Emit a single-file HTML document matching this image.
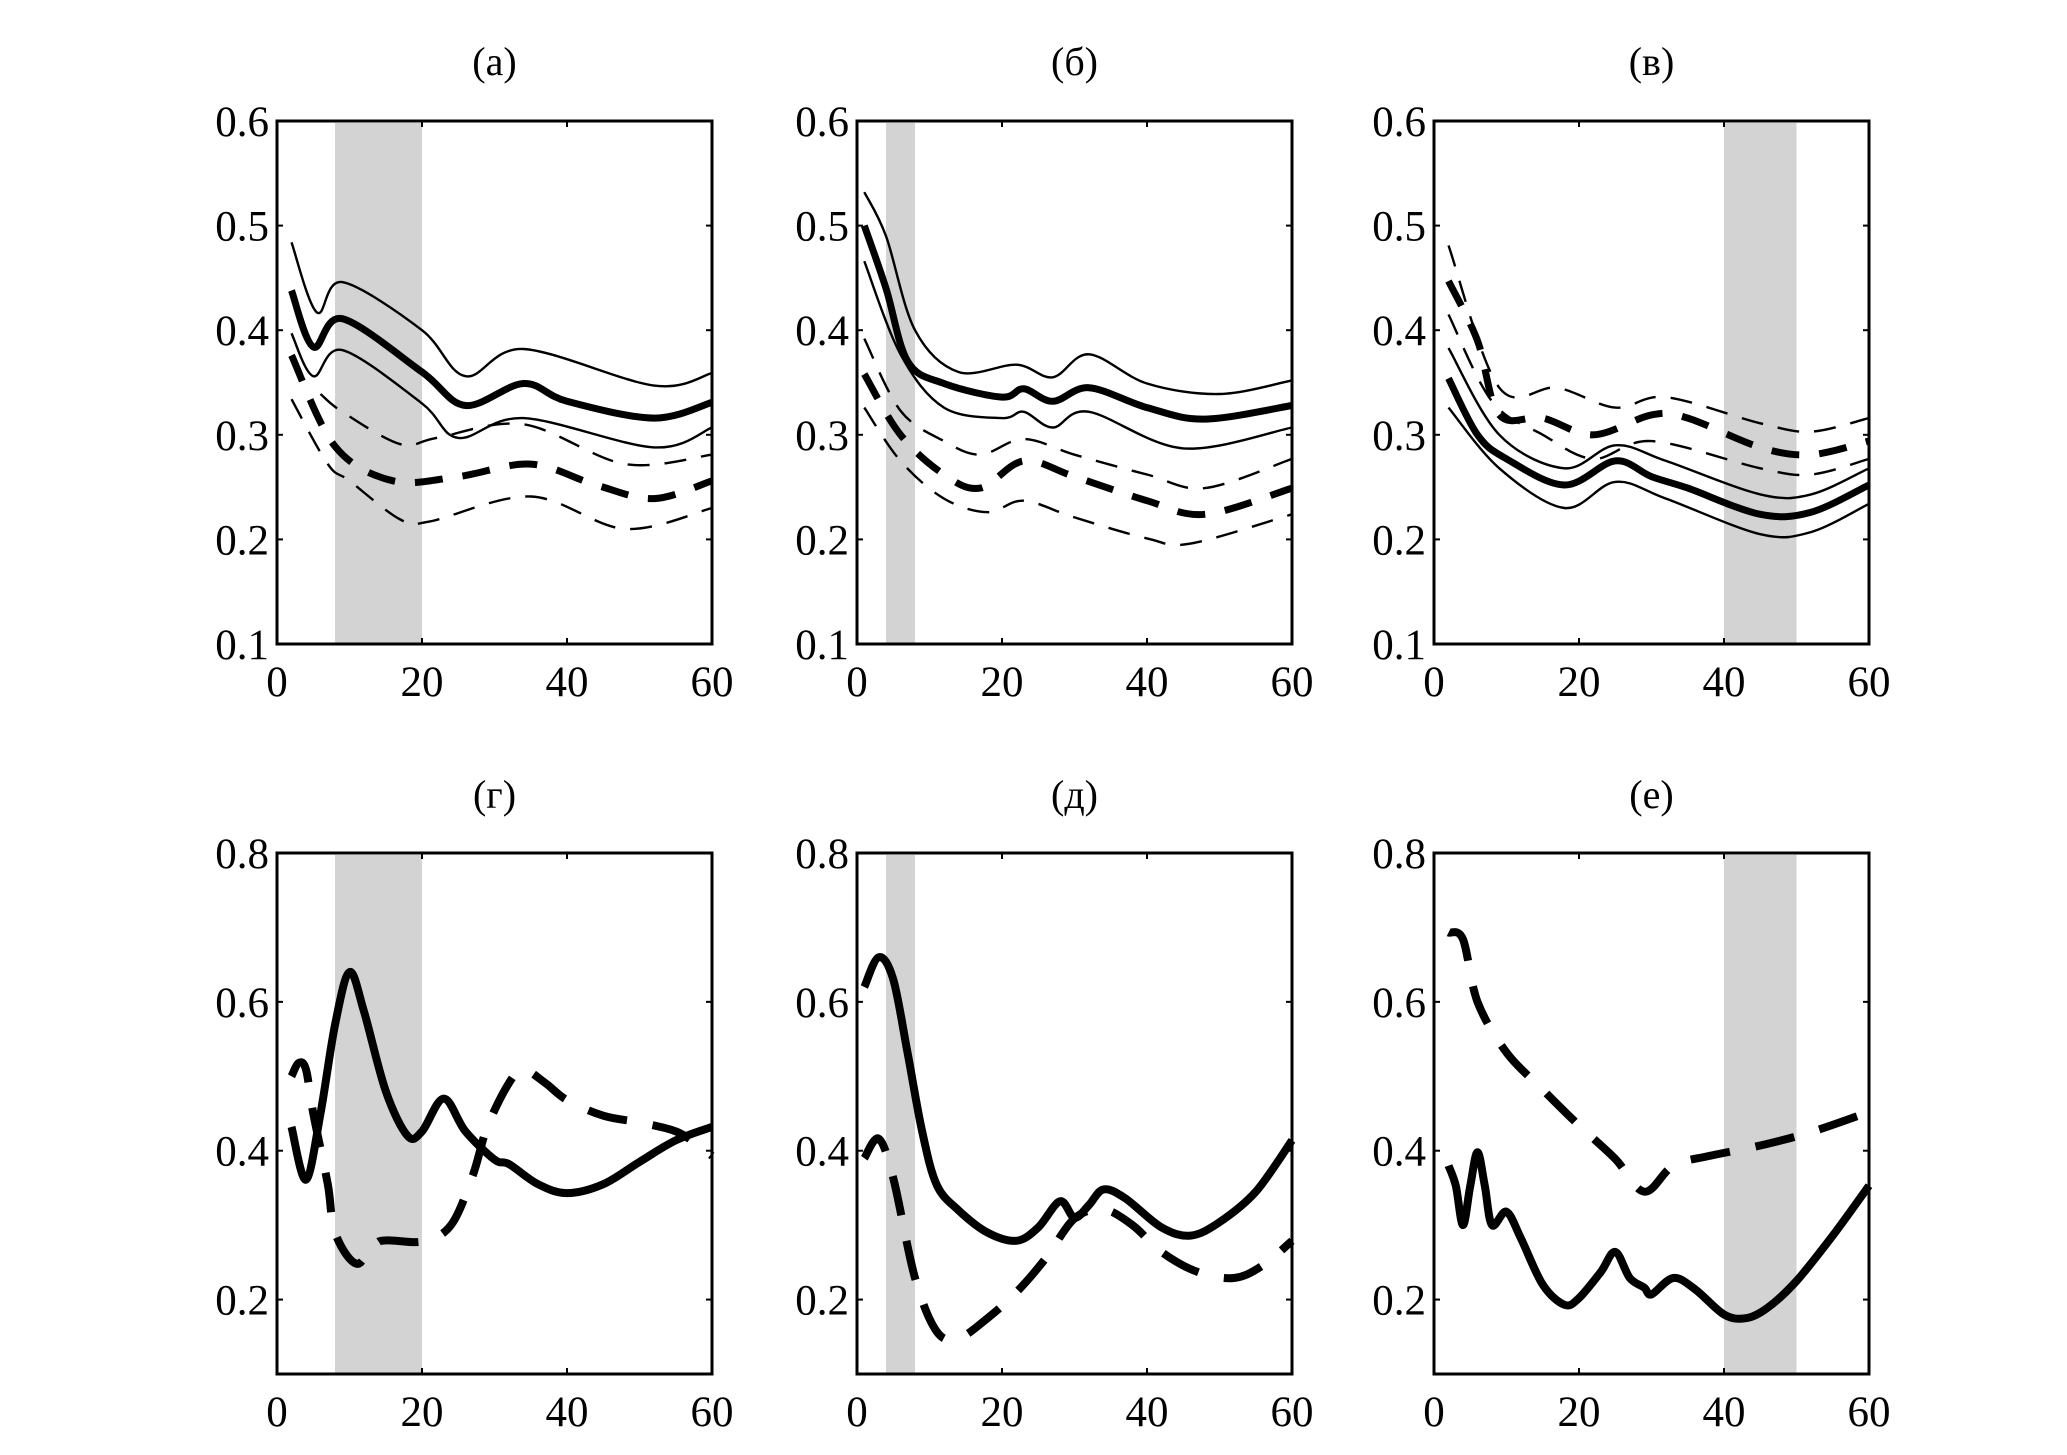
<!DOCTYPE html>
<html><head><meta charset="utf-8"><style>
html,body{margin:0;padding:0;background:#fff;}
svg{display:block;font-family:"Liberation Serif","DejaVu Serif",serif;}
</style></head><body>
<svg id="fig" width="2067" height="1455" viewBox="0 0 2067 1455" xmlns="http://www.w3.org/2000/svg"></svg>
<script>
// ---- Data (x = time, y = value) ----
const xTicks = [0, 20, 40, 60];
const yTicksTop = ["0.1", "0.2", "0.3", "0.4", "0.5", "0.6"];
const yTicksBottom = ["0.2", "0.4", "0.6", "0.8"];
const panelTitles = ["(а)", "(б)", "(в)", "(г)", "(д)", "(е)"];
const shadeRanges = [[8, 20], [4, 8], [40, 50], [8, 20], [4, 8], [40, 50]];

// panel a
const aSolidX = [2, 5, 9, 20, 26, 34, 40, 52, 60];
const aSolidMean = [0.438, 0.384, 0.411, 0.36, 0.328, 0.349, 0.332, 0.316, 0.331];
const aSolidUpX = [2, 5.5, 9, 20, 26, 34, 52, 60];
const aSolidUp = [0.484, 0.417, 0.446, 0.40, 0.356, 0.382, 0.347, 0.359];
const aSolidLoX = [2, 5, 9, 20, 25, 34, 52, 60];
const aSolidLo = [0.397, 0.356, 0.381, 0.33, 0.297, 0.316, 0.288, 0.307];
const aDashX = [2, 8, 16, 25, 35, 44, 52, 60];
const aDashMean = [0.376, 0.289, 0.256, 0.26, 0.272, 0.252, 0.239, 0.256];
const aDashUpX = [6, 9, 17, 22, 34, 48, 60];
const aDashUp = [0.339, 0.322, 0.291, 0.297, 0.31, 0.272, 0.281];
const aDashLoX = [2, 7, 10, 17, 21, 35, 48, 60];
const aDashLo = [0.334, 0.272, 0.256, 0.219, 0.217, 0.241, 0.21, 0.23];
// panel b
const bX = [1, 4, 7, 12, 20, 23, 27, 32, 40, 48, 60];
const bSolidMean = [0.50, 0.44, 0.37, 0.349, 0.336, 0.344, 0.332, 0.345, 0.326, 0.315, 0.328];
const bSolidUpX = [1, 4, 8, 14, 22, 27, 32, 40, 50, 60];
const bSolidUp = [0.532, 0.49, 0.40, 0.36, 0.367, 0.355, 0.377, 0.349, 0.339, 0.352];
const bSolidLoX = [1, 6, 12, 20, 23, 27, 32, 45, 60];
const bSolidLo = [0.466, 0.377, 0.326, 0.316, 0.322, 0.307, 0.322, 0.287, 0.307];
const bDashX = [1, 6, 12, 17, 23, 30, 40, 48, 60];
const bDashMean = [0.358, 0.30, 0.262, 0.249, 0.275, 0.26, 0.237, 0.224, 0.249];
const bDashUp = [0.392, 0.323, 0.294, 0.281, 0.296, 0.281, 0.262, 0.249, 0.277];
const bDashLoX = [1, 6, 12, 18, 23, 30, 40, 46, 60];
const bDashLo = [0.326, 0.275, 0.239, 0.226, 0.237, 0.221, 0.201, 0.196, 0.224];
// panel c
const cDashX = [2, 6, 9, 15, 22, 30, 35, 45, 52, 60];
const cDashMean = [0.447, 0.39, 0.319, 0.316, 0.30, 0.319, 0.316, 0.288, 0.281, 0.294];
const cDashUpX = [2, 9, 17, 25, 32, 45, 52, 60];
const cDashUp = [0.481, 0.345, 0.345, 0.326, 0.336, 0.311, 0.303, 0.316];
const cDashLoX = [2, 8, 15, 22, 30, 45, 52, 60];
const cDashLo = [0.415, 0.332, 0.30, 0.277, 0.294, 0.268, 0.262, 0.277];
const cSolidX = [2, 6, 10, 18, 25, 30, 35, 45, 52, 60];
const cSolidMean = [0.354, 0.30, 0.277, 0.252, 0.275, 0.26, 0.249, 0.224, 0.226, 0.252];
const cSolidBandX = [2, 9, 18, 25, 32, 45, 52, 60];
const cSolidUp = [0.383, 0.30, 0.268, 0.29, 0.275, 0.243, 0.243, 0.268];
const cSolidLo = [0.326, 0.268, 0.23, 0.255, 0.239, 0.205, 0.207, 0.234];
// panel d (г)
const dSolidX = [2, 4, 6, 8, 10, 12, 15, 18, 20, 23, 26, 30, 32, 36, 40, 45, 50, 55, 60];
const dSolid = [0.432, 0.361, 0.45, 0.569, 0.64, 0.587, 0.48, 0.42, 0.426, 0.47, 0.426, 0.388, 0.382, 0.355, 0.343, 0.355, 0.385, 0.414, 0.432];
const dDashX = [2, 3, 4, 5, 7, 8, 11, 14, 20, 24, 27, 29, 32, 34, 37, 40, 45, 50, 55, 58, 60];
const dDash = [0.50, 0.518, 0.509, 0.45, 0.355, 0.29, 0.248, 0.278, 0.278, 0.30, 0.367, 0.432, 0.491, 0.509, 0.491, 0.468, 0.447, 0.438, 0.426, 0.408, 0.393];
// panel e (д)
const eSolidX = [1, 3, 5, 7, 9, 11, 14, 18, 22, 25, 28, 30, 32, 34, 37, 42, 46, 50, 55, 60];
const eSolid = [0.62, 0.66, 0.63, 0.53, 0.425, 0.354, 0.32, 0.29, 0.279, 0.297, 0.332, 0.31, 0.327, 0.348, 0.336, 0.297, 0.286, 0.304, 0.345, 0.414];
const eDashX = [1, 3, 5, 8, 11, 14, 18, 22, 26, 30, 34, 38, 42, 47, 52, 56, 60];
const eDash = [0.39, 0.416, 0.363, 0.229, 0.157, 0.148, 0.175, 0.21, 0.255, 0.309, 0.321, 0.30, 0.264, 0.237, 0.229, 0.246, 0.279];
// panel f (е)
const fDashX = [2, 4, 6, 10, 15, 20, 25, 29, 33, 38, 45, 52, 60];
const fDash = [0.693, 0.684, 0.60, 0.532, 0.482, 0.434, 0.389, 0.345, 0.38, 0.393, 0.407, 0.425, 0.452];
const fSolidX = [2, 3, 4, 5, 6, 7, 8, 10, 12, 15, 18, 20, 23, 25, 27, 29, 30, 33, 36, 40, 43, 46, 50, 55, 60];
const fSolid = [0.38, 0.353, 0.30, 0.353, 0.398, 0.353, 0.30, 0.318, 0.282, 0.22, 0.193, 0.202, 0.237, 0.264, 0.229, 0.216, 0.207, 0.229, 0.214, 0.18, 0.175, 0.189, 0.225, 0.286, 0.353];

// ---- Layout ----
const NS = "http://www.w3.org/2000/svg";
const svg = document.getElementById("fig");
const lefts = [277, 857, 1434];
const W = 435;
const rows = [{top: 121, bottom: 644, ymin: 0.1, ymax: 0.6, ticks: yTicksTop, titleY: 75},
              {top: 853, bottom: 1374, ymin: 0.1, ymax: 0.8, ticks: yTicksBottom, titleY: 808}];

function mk(tag, attrs, parent) {
  const e = document.createElementNS(NS, tag);
  for (const k in attrs) e.setAttribute(k, attrs[k]);
  (parent || svg).appendChild(e);
  return e;
}
function smoothPath(pts) {
  let d = "M" + pts[0][0].toFixed(1) + "," + pts[0][1].toFixed(1);
  for (let i = 0; i < pts.length - 1; i++) {
    const p0 = pts[Math.max(0, i - 1)], p1 = pts[i], p2 = pts[i + 1], p3 = pts[Math.min(pts.length - 1, i + 2)];
    const c1x = p1[0] + (p2[0] - p0[0]) / 6, c1y = p1[1] + (p2[1] - p0[1]) / 6;
    const c2x = p2[0] - (p3[0] - p1[0]) / 6, c2y = p2[1] - (p3[1] - p1[1]) / 6;
    d += " C" + c1x.toFixed(1) + "," + c1y.toFixed(1) + " " + c2x.toFixed(1) + "," + c2y.toFixed(1) + " " + p2[0].toFixed(1) + "," + p2[1].toFixed(1);
  }
  return d;
}

const panelSeries = [
  [[aSolidX, aSolidMean, 7, null, "solid-mean"], [aSolidUpX, aSolidUp, 2.4, null, "solid-upper"], [aSolidLoX, aSolidLo, 2.4, null, "solid-lower"],
   [aDashX, aDashMean, 7, "28,20", "dashed-mean"], [aDashUpX, aDashUp, 2.4, "22,15", "dashed-upper"], [aDashLoX, aDashLo, 2.4, "22,15", "dashed-lower"]],
  [[bX, bSolidMean, 7, null, "solid-mean"], [bSolidUpX, bSolidUp, 2.4, null, "solid-upper"], [bSolidLoX, bSolidLo, 2.4, null, "solid-lower"],
   [bDashX, bDashMean, 7, "28,20", "dashed-mean"], [bDashX, bDashUp, 2.4, "22,15", "dashed-upper"], [bDashLoX, bDashLo, 2.4, "22,15", "dashed-lower"]],
  [[cSolidX, cSolidMean, 7, null, "solid-mean"], [cSolidBandX, cSolidUp, 2.4, null, "solid-upper"], [cSolidBandX, cSolidLo, 2.4, null, "solid-lower"],
   [cDashX, cDashMean, 7, "28,20", "dashed-mean"], [cDashUpX, cDashUp, 2.4, "22,15", "dashed-upper"], [cDashLoX, cDashLo, 2.4, "22,15", "dashed-lower"]],
  [[dSolidX, dSolid, 8, null, "solid-line"], [dDashX, dDash, 8, "40,26", "dashed-line"]],
  [[eSolidX, eSolid, 8, null, "solid-line"], [eDashX, eDash, 8, "40,26", "dashed-line"]],
  [[fSolidX, fSolid, 8, null, "solid-line"], [fDashX, fDash, 8, "40,26", "dashed-line"]]
];

for (let p = 0; p < 6; p++) {
  const row = rows[Math.floor(p / 3)];
  const L = lefts[p % 3], R = L + W, T = row.top, B = row.bottom;
  const sx = v => L + (v / 60) * W;
  const sy = v => B - (v - row.ymin) / (row.ymax - row.ymin) * (B - T);
  const g = mk("g", {});
  
  

  const sh = mk("rect", {x: sx(shadeRanges[p][0]), y: T + 2, width: sx(shadeRanges[p][1]) - sx(shadeRanges[p][0]), height: B - T - 2, fill: "#d3d3d3"}, g);
  
  

  for (const s of panelSeries[p]) {
    const pts = s[0].map((x, i) => [sx(x), sy(s[1][i])]);
    const attrs = {d: smoothPath(pts), fill: "none", stroke: "#000", "stroke-width": s[2], "stroke-linejoin": "round"};
    if (s[3]) attrs["stroke-dasharray"] = s[3];
    const path = mk("path", attrs, g);
    
    
  }

  const box = mk("rect", {x: L, y: T, width: W, height: B - T, fill: "none", stroke: "#000", "stroke-width": 3}, g);
  
  

  for (const xt of xTicks) {
    const x = sx(xt);
    mk("line", {x1: x, y1: B, x2: x, y2: B - 6, stroke: "#000", "stroke-width": 2}, g);
    mk("line", {x1: x, y1: T, x2: x, y2: T + 6, stroke: "#000", "stroke-width": 2}, g);
    const t = mk("text", {x: x, y: B + 52, "text-anchor": "middle", "font-size": 43}, g);
    t.textContent = xt;
    
    
  }
  for (const yt of row.ticks) {
    const y = sy(parseFloat(yt));
    mk("line", {x1: L, y1: y, x2: L + 6, y2: y, stroke: "#000", "stroke-width": 2}, g);
    mk("line", {x1: R, y1: y, x2: R - 6, y2: y, stroke: "#000", "stroke-width": 2}, g);
    const t = mk("text", {x: L - 8, y: y + 15, "text-anchor": "end", "font-size": 43}, g);
    t.textContent = yt;
    
    
  }
  const title = mk("text", {x: L + W / 2, y: row.titleY, "text-anchor": "middle", "font-size": 40}, g);
  title.textContent = panelTitles[p];
  
  
}
</script>
</body></html>
